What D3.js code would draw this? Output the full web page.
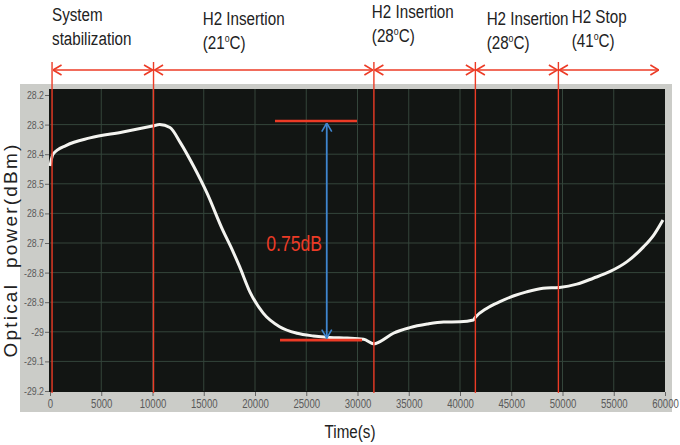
<!DOCTYPE html>
<html><head><meta charset="utf-8">
<script src="https://cdn.jsdelivr.net/npm/d3@7/dist/d3.min.js"></script>
<style>body{margin:0;background:#fff}svg{display:block}</style>
</head><body><svg id="c" width="680" height="445"></svg>
<script>
// ---- data ----
const timeS = [0, 300, 1600, 3900, 7100, 10000, 10700, 11700, 12700, 14000, 15300, 16900, 17600, 18500, 19500, 20800, 22400, 24100, 25700, 27300, 29000, 30600, 31600, 32200, 33500, 35100, 36800, 38400, 40000, 41300, 41500, 42600, 43900, 45200, 46500, 48100, 49700, 51400, 53000, 54600, 56300, 57900, 58900, 59800];
const powerDbm = [-28.44, -28.40, -28.37, -28.345, -28.325, -28.305, -28.30, -28.31, -28.36, -28.44, -28.53, -28.66, -28.71, -28.78, -28.865, -28.937, -28.983, -29.005, -29.014, -29.019, -29.021, -29.025, -29.041, -29.033, -29.005, -28.986, -28.974, -28.967, -28.966, -28.960, -28.951, -28.921, -28.898, -28.879, -28.865, -28.853, -28.850, -28.839, -28.819, -28.797, -28.763, -28.713, -28.673, -28.622];
const xTicks = [0, 5000, 10000, 15000, 20000, 25000, 30000, 35000, 40000, 45000, 50000, 55000, 60000];
const yTicks = [-28.2, -28.3, -28.4, -28.5, -28.6, -28.7, -28.8, -28.9, -29.0, -29.1, -29.2];
const yTickLabels = ["28.2", "28.3", "28.4", "28.5", "28.6", "28.7", "-28.8", "-28.9", "-29", "-29.1", "-29.2"];
const phaseBounds = [200, 10100, 31600, 41500, 49600];
const phaseEnd = 59500;
const phaseTitles = ["System", "H2 Insertion", "H2 Insertion", "H2 Insertion", "H2 Stop"];
const phaseSubs = ["stabilization", "21", "28", "28", "41"];
const deltaTop = -28.288, deltaBottom = -29.028, deltaLabel = "0.75dB";

// ---- layout ----
const svg = d3.select("#c");
const x = d3.scaleLinear().domain([0, 60000]).range([50, 665]);
const y = d3.scaleLinear().domain([-29.2, -28.2]).range([391, 95]);
const FONT = "'Liberation Sans',Arial,sans-serif";
const SX = 0.8; // horizontal squeeze for a condensed look
const RED = "#ec3b26", BLUE = "#3f86cf";

function ntext(px, py, size, color, anchor) {
  return svg.append("text").attr("transform", `translate(${px},${py}) scale(${SX},1)`)
    .attr("font-family", FONT).attr("font-size", size).attr("fill", color)
    .attr("text-anchor", anchor || "start");
}

// gray panel + black plot
svg.append("rect").attr("x", 20).attr("y", 84).attr("width", 652).attr("height", 328).attr("fill", "#cbccc8");
svg.append("rect").attr("x", x(0) - 1).attr("y", 89).attr("width", x(60000) - x(0) + 1).attr("height", y(-29.2) + 1 - 89).attr("fill", "#121513");

// grid
const g = svg.append("g");
g.selectAll(".gx").data(xTicks.slice(1, -1)).join("line")
  .attr("x1", d => x(d)).attr("x2", d => x(d)).attr("y1", 89).attr("y2", y(-29.2))
  .attr("stroke", "#34453b").attr("stroke-width", 1);
g.selectAll(".gy").data(yTicks.slice(1, -1)).join("line")
  .attr("x1", x(0)).attr("x2", x(60000)).attr("y1", d => y(d)).attr("y2", d => y(d))
  .attr("stroke", "#34453b").attr("stroke-width", 1);

// axes
const xAxis = d3.axisBottom(x).tickValues(xTicks).tickSize(4).tickPadding(3).tickFormat(d3.format("d"));
const ax = svg.append("g").attr("transform", `translate(0,${y(-29.2) + 1})`).call(xAxis);
ax.select(".domain").remove();
ax.selectAll("line").attr("stroke", "#666");
ax.selectAll("text").attr("font-family", FONT).attr("font-size", 12).attr("fill", "#5a5a5a")
  .attr("transform", `scale(${SX},1)`).attr("x", 0)
  .each(function() { const t = d3.select(this.parentNode).attr("transform"); });
// keep labels centred on ticks after squeeze
ax.selectAll(".tick").each(function() {
  d3.select(this).select("text").attr("transform", `scale(${SX},1)`);
});

const yAxis = d3.axisLeft(y).tickValues(yTicks).tickSize(4).tickPadding(1).tickFormat((d, i) => yTickLabels[i]);
const ay = svg.append("g").attr("transform", `translate(${x(0) - 1},0)`).call(yAxis);
ay.select(".domain").remove();
ay.selectAll("line").attr("stroke", "#666");
ay.selectAll("text").attr("font-family", FONT).attr("font-size", 11).attr("fill", "#5a5a5a")
  .attr("transform", `scale(${SX},1)`).attr("x", -5 / SX);

// curve
const line = d3.line().x((d, i) => x(timeS[i])).y(d => y(d)).curve(d3.curveMonotoneX);
svg.append("path").datum(powerDbm).attr("d", line).attr("fill", "none")
  .attr("stroke", "#f4f4f0").attr("stroke-width", 3).attr("stroke-linejoin", "round");

// markers
const defs = svg.append("defs");
function mk(id, color) {
  defs.append("marker").attr("id", id).attr("viewBox", "0 0 10 12").attr("refX", 9.5).attr("refY", 6)
    .attr("markerWidth", 10).attr("markerHeight", 12).attr("markerUnits", "userSpaceOnUse")
    .attr("orient", "auto-start-reverse")
    .append("path").attr("d", "M1,1 L9.5,6 L1,11").attr("fill", "none").attr("stroke", color).attr("stroke-width", 1.6);
}
mk("ar", RED); mk("ab", BLUE);

// phase vertical lines
svg.selectAll(".vl").data(phaseBounds).join("line")
  .attr("x1", d => x(d)).attr("x2", d => x(d)).attr("y1", 62).attr("y2", y(-29.2) + 2)
  .attr("stroke", RED).attr("stroke-width", 1.4);

// phase arrows
const ends = phaseBounds.slice(1).concat([phaseEnd]);
svg.selectAll(".pa").data(phaseBounds).join("line")
  .attr("x1", d => x(d) + 1).attr("x2", (d, i) => x(ends[i]) - 1).attr("y1", 70).attr("y2", 70)
  .attr("stroke", RED).attr("stroke-width", 1.6)
  .attr("marker-start", "url(#ar)").attr("marker-end", "url(#ar)");

// phase labels
const labelOffsetsT = [0, 4800, -200, 1100, 1300];
const labelBase = [21, 25, 18, 25, 23];
phaseTitles.forEach((t, i) => {
  const lx = x(phaseBounds[i] + labelOffsetsT[i]);
  ntext(lx, labelBase[i], 19, "#222").text(t);
  const t2 = ntext(lx, labelBase[i] + 24, 19, "#222");
  if (i === 0) { t2.text(phaseSubs[i]); }
  else {
    t2.append("tspan").text("(" + phaseSubs[i]);
    t2.append("tspan").attr("font-size", 11).attr("dy", -7).text("o");
    t2.append("tspan").attr("dy", 7).text("C)");
  }
});

// delta annotation
svg.append("line").attr("x1", x(21950)).attr("x2", x(29950)).attr("y1", y(deltaTop)).attr("y2", y(deltaTop))
  .attr("stroke", RED).attr("stroke-width", 2.6);
svg.append("line").attr("x1", x(22440)).attr("x2", x(30440)).attr("y1", y(deltaBottom)).attr("y2", y(deltaBottom))
  .attr("stroke", RED).attr("stroke-width", 2.6);
svg.append("line").attr("x1", x(27000)).attr("x2", x(27000)).attr("y1", y(deltaTop) + 2).attr("y2", y(deltaBottom) - 2)
  .attr("stroke", BLUE).attr("stroke-width", 1.8)
  .attr("marker-start", "url(#ab)").attr("marker-end", "url(#ab)");
ntext(x(21100), 251, 22, RED).text(deltaLabel);

// axis titles
svg.append("text").attr("transform", "translate(17,250) rotate(-90)").attr("text-anchor", "middle")
  .attr("font-family", FONT).attr("font-size", 19).attr("letter-spacing", 2.2)
  .attr("fill", "#222").style("white-space", "pre").text("Optical  power(dBm)");
ntext(350, 438, 19, "#222", "middle").text("Time(s)");
</script></body></html>
